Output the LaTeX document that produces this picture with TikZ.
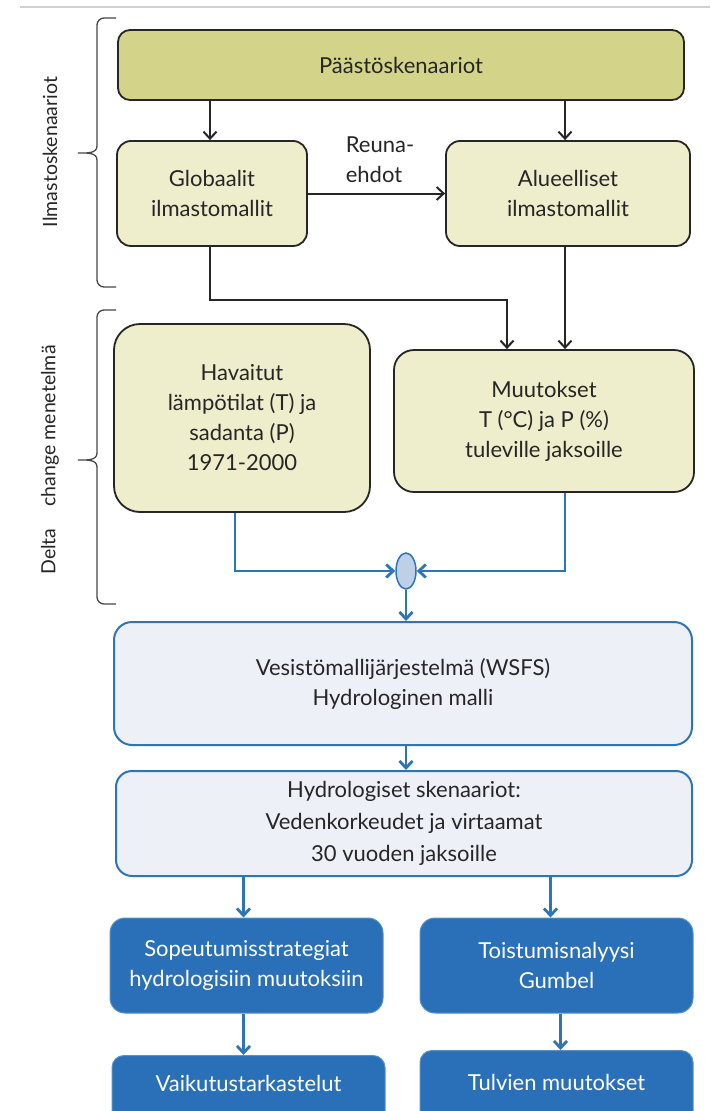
\documentclass[tikz,border=0pt]{standalone}
\usepackage{fontspec}
\setmainfont{Lato}
\usetikzlibrary{arrows.meta,shapes.geometric}
\definecolor{olive}{HTML}{D3D48A}
\definecolor{beige}{HTML}{EEEDCC}
\definecolor{lblue}{HTML}{EEF0F8}
\definecolor{mblue}{HTML}{2E75B6}
\definecolor{dblue}{HTML}{2970B8}
\definecolor{ink}{HTML}{262626}
\definecolor{ellfill}{HTML}{BDD0E8}
\tikzset{
  base/.style={rounded corners=12pt, align=center, font=\fontsize{22}{30}\selectfont, text=ink, inner sep=0pt},
  olivebox/.style={base, draw=ink, line width=1.8pt, fill=olive},
  beigebox/.style={base, draw=ink, line width=1.8pt, fill=beige},
  lbbox/.style={base, draw=mblue, line width=2pt, fill=lblue},
  dbbox/.style={base, draw=mblue!80!white, line width=1pt, fill=dblue, text=white},
  blk/.style={draw=ink, line width=2pt, -{Straight Barb[length=7pt,width=13pt,line width=2pt]}},
  blu/.style={draw=mblue, line width=2.8pt, -{Straight Barb[length=7pt,width=13pt,line width=2.8pt]}},
  brace/.style={draw=ink!85, line width=1.3pt},
  sidelabel/.style={rotate=90, font=\fontsize{19.5}{22}\selectfont, text=ink}
}
\begin{document}
\begin{tikzpicture}[x=1pt,y=-1pt]
\clip (0,0) rectangle (710,1111);
\fill[white] (0,0) rectangle (710,1111);
\draw[line width=2pt, black!18] (20,7) -- (710,7);

% nodes
\node[olivebox, minimum width=566pt, minimum height=70pt] (paa) at (401,65) {Päästöskenaariot};
\node[beigebox, rounded corners=14pt, minimum width=190pt, minimum height=105pt] (glob) at (212,193.5) {Globaalit\\ilmastomallit};
\node[beigebox, rounded corners=14pt, minimum width=244pt, minimum height=105pt] (alue) at (568,193.5) {Alueelliset\\ilmastomallit};
\node[align=left, font=\fontsize{22}{30}\selectfont, text=ink, inner sep=0pt] (reuna) at (380,160) {Reuna-\\ehdot};
\node[beigebox, rounded corners=26pt, minimum width=256pt, minimum height=188pt] (hav) at (242,418) {Havaitut\\lämpötilat (T) ja\\sadanta (P)\\1971-2000};
\node[beigebox, rounded corners=20pt, minimum width=300pt, minimum height=142pt] (muut) at (544,421) {Muutokset\\T (°C) ja P (\%)\\tuleville jaksoille};
\node[ellipse, draw=mblue, line width=1.5pt, fill=ellfill, minimum width=20pt, minimum height=36pt, inner sep=0pt] (ell) at (406,571) {};
\node[lbbox, rounded corners=18pt, minimum width=578pt, minimum height=123pt] (ves) at (403,683.5) {Vesistömallijärjestelmä (WSFS)\\Hydrologinen malli};
\node[lbbox, rounded corners=16pt, minimum width=576pt, minimum height=105pt, font=\fontsize{22}{32}\selectfont] (hyd) at (404,823.5) {Hydrologiset skenaariot:\\Vedenkorkeudet ja virtaamat\\30 vuoden jaksoille};
\node[dbbox, rounded corners=15pt, minimum width=273pt, minimum height=95pt] (sop) at (246.5,965.5) {Sopeutumisstrategiat\\hydrologisiin muutoksiin};
\node[dbbox, rounded corners=15pt, minimum width=273pt, minimum height=95pt] (toi) at (556.5,965.5) {Toistumisnalyysi\\Gumbel};
\node[dbbox, anchor=north, minimum width=273pt, text height=36pt, text depth=40pt] (vai) at (248.5,1055) {Vaikutustarkastelut};
\node[dbbox, anchor=north, minimum width=273pt, text height=40pt, text depth=40pt] (tul) at (556.5,1050) {Tulvien muutokset};

% side braces
\draw[brace] (116,18) -- (104,18) to[out=180,in=90] (97,25) -- (97,146) to[out=-90,in=0] (78,153) to[out=0,in=90] (97,160) -- (97,280) to[out=-90,in=180] (104,287) -- (116,287);
\node[sidelabel] (lab1) at (50,152) {Ilmastoskenaariot};
\draw[brace] (116,310) -- (104,310) to[out=180,in=90] (97,317) -- (97,453) to[out=-90,in=0] (78,460) to[out=0,in=90] (97,467) -- (97,597) to[out=-90,in=180] (104,604) -- (116,604);
\node[sidelabel] (lab2) at (50,460) {Delta\hspace{22pt}change menetelmä};

% black connectors
\draw[blk] ([xshift=-2pt]glob.north |- paa.south) -- ([xshift=-2pt]glob.north);
\draw[blk] ([xshift=-3pt]alue.north |- paa.south) -- ([xshift=-3pt]alue.north);
\draw[blk] (glob.east) -- (alue.west);
\coordinate (gdown) at ([xshift=-2pt]glob.south);
\coordinate (mjoin) at ([xshift=-37pt]muut.north);
\draw[blk] (gdown) -- (gdown |- 0,300) -| (mjoin);
\draw[blk] ([xshift=-3pt]alue.south) -- ([xshift=-3pt]alue.south |- muut.north);

% blue connectors
\draw[blu] ([xshift=-7pt]hav.south) |- (ell.west);
\draw[blu] ([xshift=21pt]muut.south) |- (ell.east);
\draw[blu] (ell.south) -- (ves.north -| ell.south);
\draw[blu] (ves.south -| ell.south) -- (hyd.north -| ell.south);
\draw[blu] ([xshift=-3pt]sop.north |- hyd.south) -- ([xshift=-3pt]sop.north);
\draw[blu] ([xshift=-6pt]toi.north |- hyd.south) -- ([xshift=-6pt]toi.north);
\draw[blu] ([xshift=-3pt]sop.south) -- ([xshift=-3pt]sop.south |- vai.north);
\draw[blu] ([xshift=4pt]toi.south) -- ([xshift=4pt]toi.south |- tul.north);
\end{tikzpicture}
\end{document}
